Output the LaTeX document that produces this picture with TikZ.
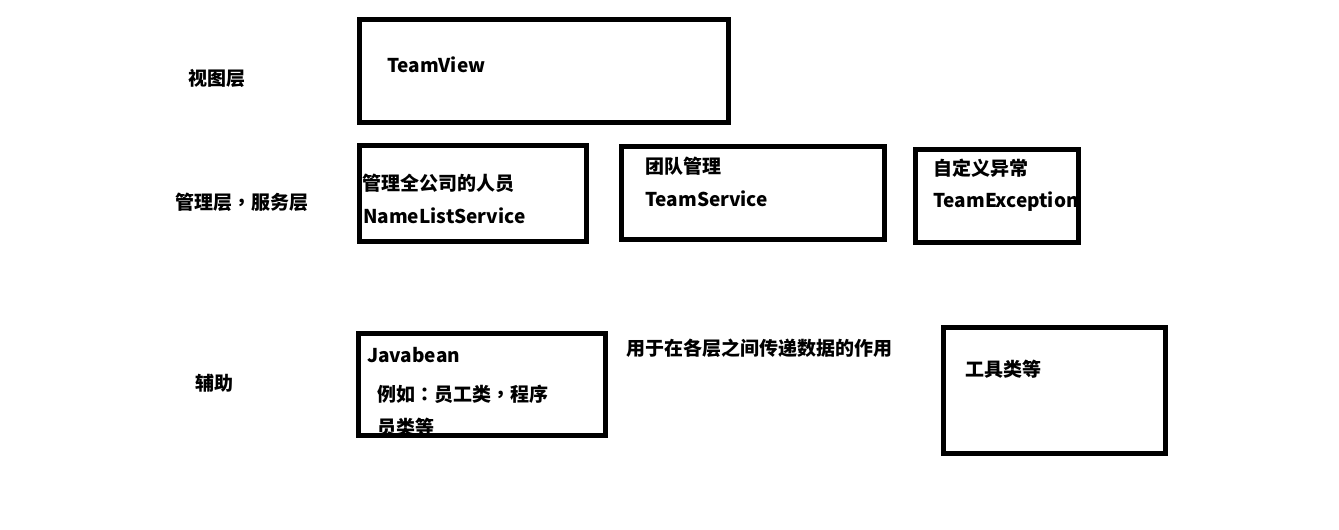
\documentclass[tikz,border=0pt]{standalone}
\usepackage{fontspec}
\setmainfont{Noto Sans CJK SC}
\newfontfamily\tcpunct{Noto Sans CJK TC}
\newcommand{\pc}[1]{{\tcpunct #1}}
\begin{document}
\begin{tikzpicture}[x=1pt,y=-1pt,
  box/.style={draw=black,line width=5pt},
  txt/.style={anchor=base west,inner sep=0pt,font=\fontsize{19}{22}\selectfont\bfseries}]
\useasboundingbox[fill=white] (0,0) rectangle (1339,530);
% boxes
\draw[box] (359.5,19.5) rectangle (728.5,122.5) coordinate (bview);
\draw[box] (359.5,145.5) rectangle (586.5,241.5) coordinate (bname);
\draw[box] (621.5,146.5) rectangle (884.5,239.5) coordinate (bteam);
\draw[box] (915.5,149.5) rectangle (1078.5,242) coordinate (bexc);
\draw[box] (358.5,333.5) rectangle (605.5,435.5) coordinate (bbean);
\draw[box] (943.5,327.5) rectangle (1165.5,453.5) coordinate (btool);
% layer labels
\node[txt] (l1) at (188,85) {视图层};
\node[txt] (l2) at (175,209) {管理层\pc{，}服务层};
\node[txt] (l3) at (195,390) {辅助};
% box texts
\node[txt] (t1) at (387,72) {TeamView};
\node[txt] (t2) at (362,190) {管理全公司的人员};
\node[txt] (t3) at (363,223) {NameListService};
\node[txt] (t4) at (645,173) {团队管理};
\node[txt] (t5) at (645,206) {TeamService};
\node[txt] (t6) at (933,175) {自定义异常};
\begin{scope}
\clip (915,100) rectangle (1076,260);
\node[txt] (t7) at (933,207) {TeamException};
\end{scope}
\node[txt] (t8) at (367,362) {Javabean};
\node[txt] (t9) at (377,401) {例如\pc{：}员工类\pc{，}程序};
\begin{scope}
\clip (360,405) rectangle (604,433);
\node[txt] (t10) at (377,434) {员类等};
\end{scope}
\node[txt] (t11) at (626,355) {用于在各层之间传递数据的作用};
\node[txt] (t12) at (965,376) {工具类等};
\end{tikzpicture}
\end{document}
